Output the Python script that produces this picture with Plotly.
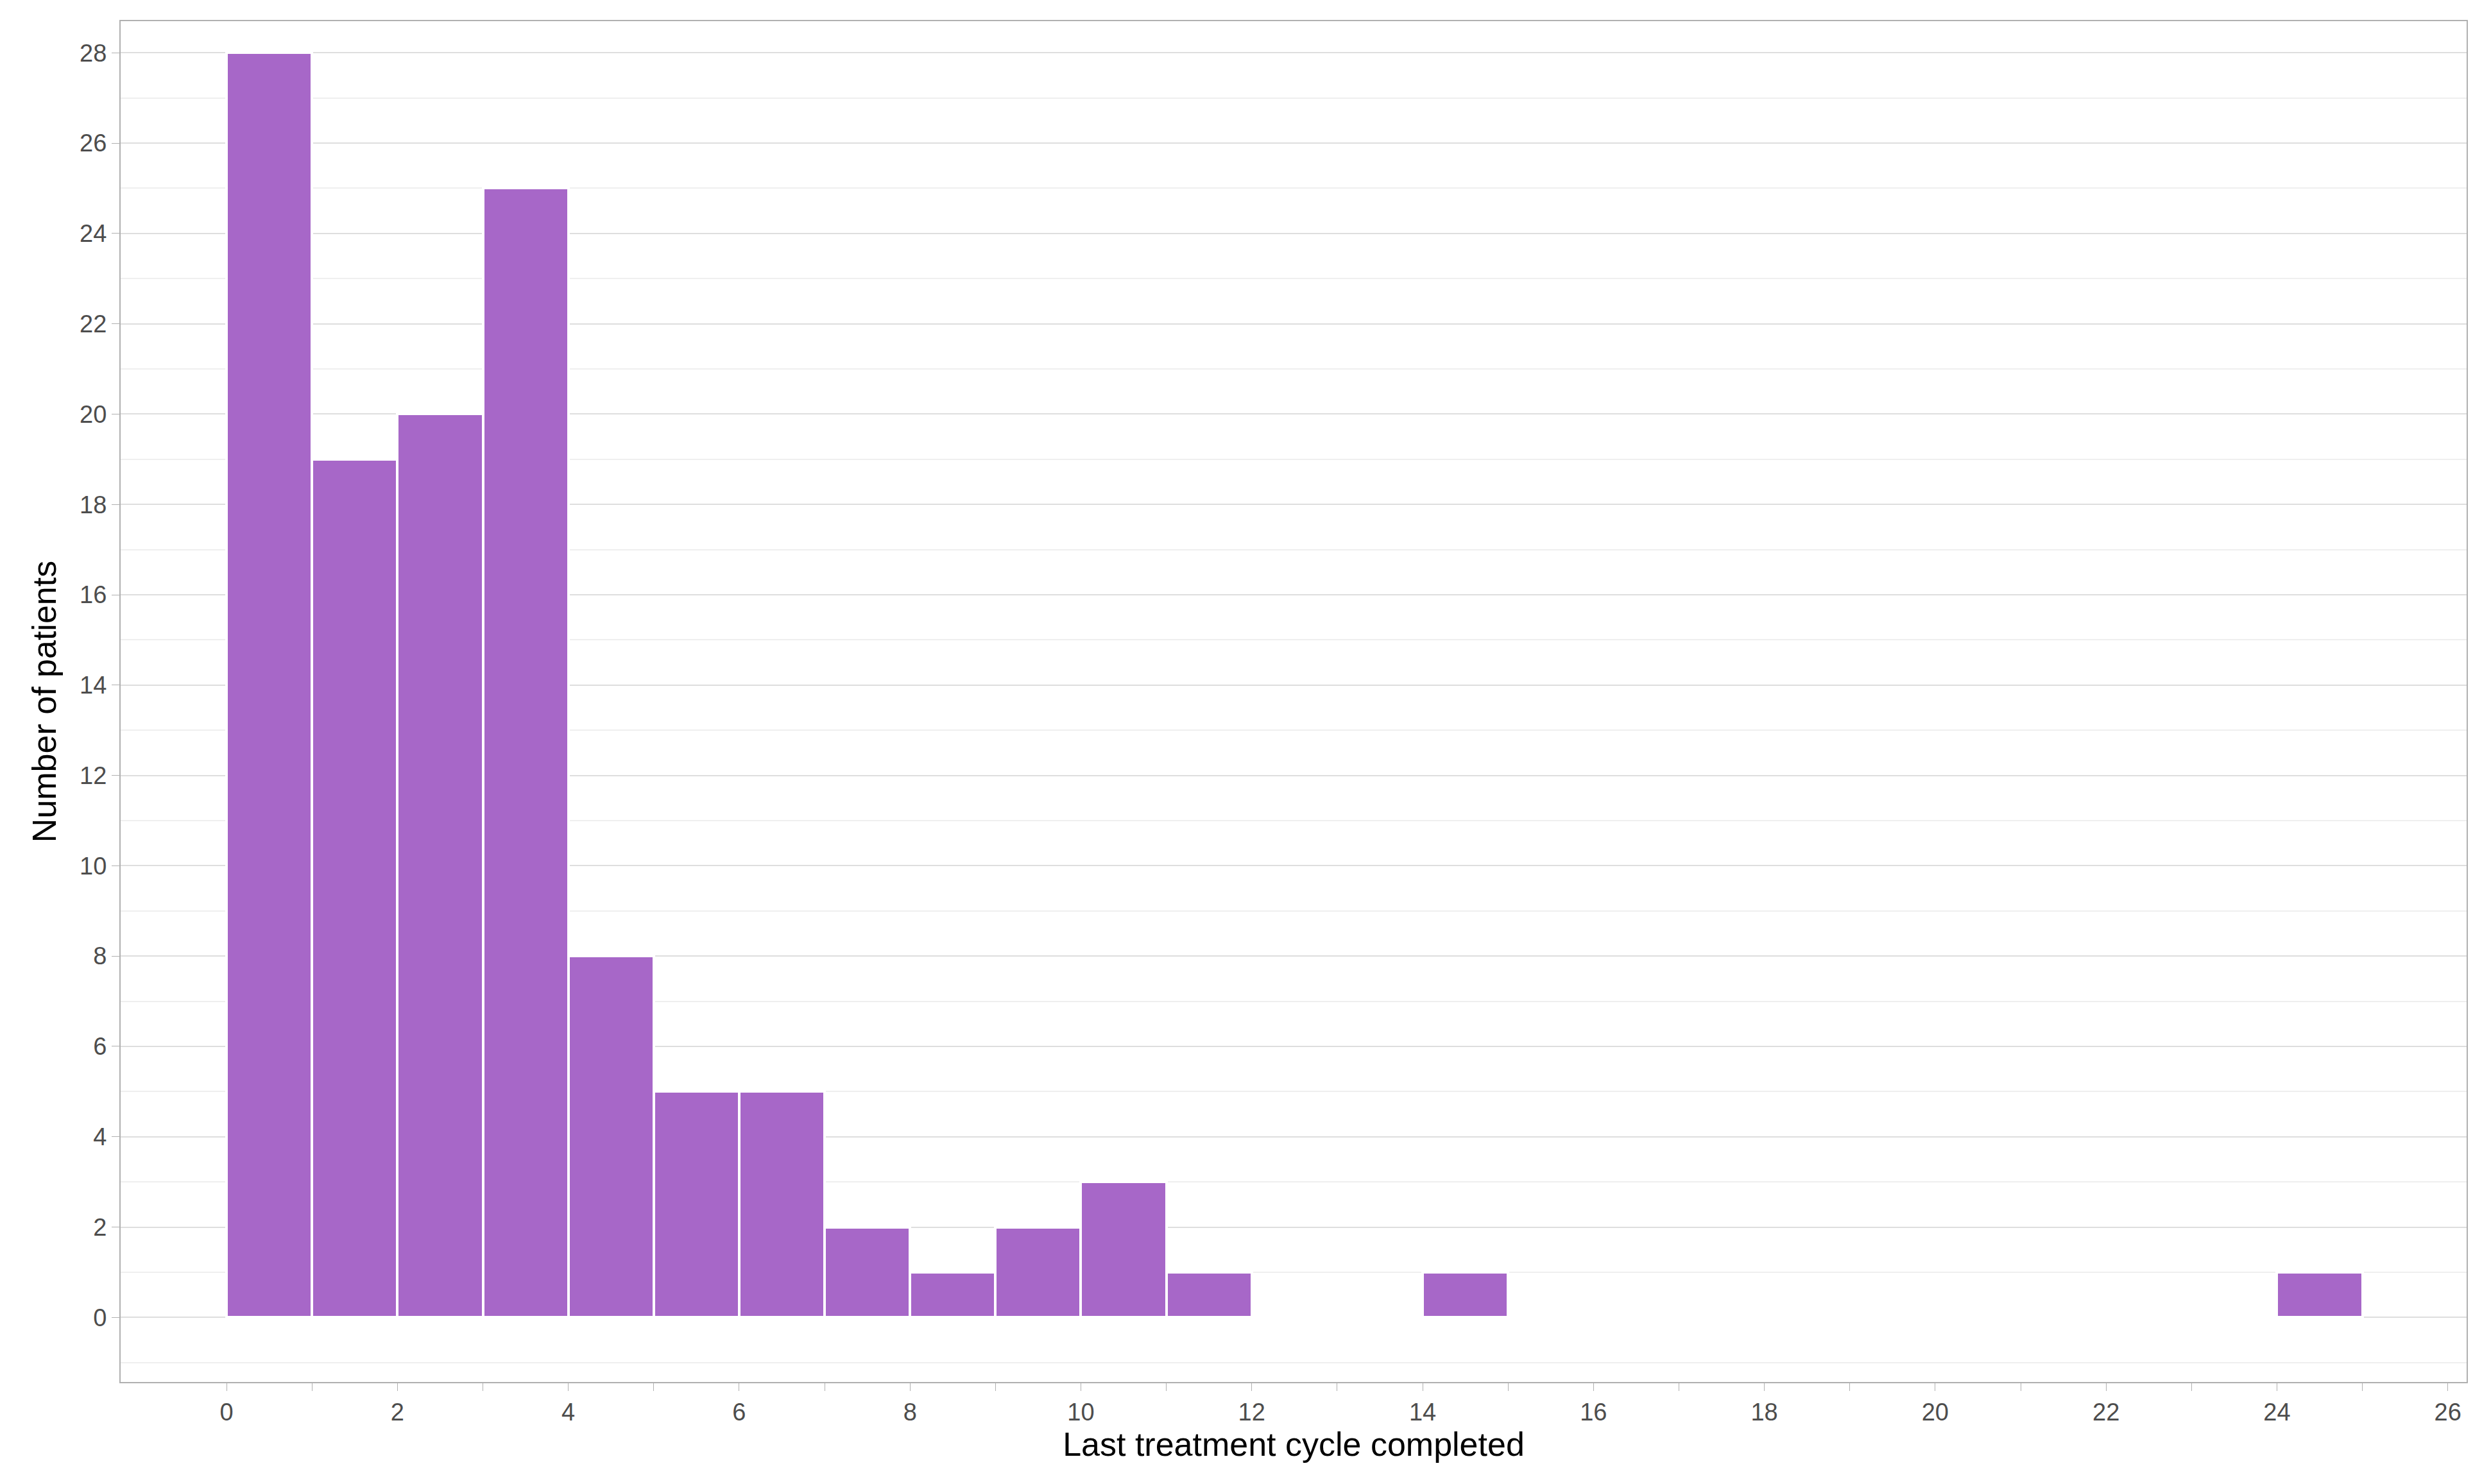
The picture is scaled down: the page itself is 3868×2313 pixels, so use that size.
import plotly.graph_objects as go

bin_left = list(range(0, 25))
counts = [28, 19, 20, 25, 8, 5, 5, 2, 1, 2, 3, 1, 0, 0, 1, 0, 0, 0, 0, 0, 0, 0, 0, 0, 1]
x_ticks = list(range(0, 27, 2))
y_ticks = list(range(0, 29, 2))

centers = [b + 0.5 for b in bin_left]

fig = go.Figure(go.Bar(
    x=centers, y=counts, width=1,
    marker=dict(color="#A767C8", line=dict(color="white", width=4)),
))
fig.update_layout(
    width=3868, height=2313,
    paper_bgcolor="white", plot_bgcolor="white",
    margin=dict(l=180, r=32, t=25, b=167),
    font=dict(family="Liberation Sans, Arial", size=38, color="#4d4d4d"),
    showlegend=False, bargap=0,
)
fig.update_xaxes(
    range=[-1.24, 26.22], tickvals=x_ticks, showgrid=False, zeroline=False,
    ticks="outside", ticklen=12, tickcolor="#b0b0b0",
    minor=dict(tickvals=list(range(1, 27, 2)), ticks="outside", ticklen=12, tickcolor="#b0b0b0"),
    showline=True, linecolor="#b0b0b0", linewidth=2, mirror=True,
    title=dict(text="Last treatment cycle completed", font=dict(size=52, color="black"), standoff=10),
)
fig.update_yaxes(
    range=[-1.43, 28.7], tickvals=y_ticks, showgrid=True, gridcolor="#dedede", gridwidth=2,
    zeroline=False, ticks="outside", ticklen=12, tickcolor="#b0b0b0",
    minor=dict(tickvals=list(range(-1, 29, 2)), showgrid=True, gridcolor="#efefef", gridwidth=2),
    showline=True, linecolor="#b0b0b0", linewidth=2, mirror=True,
    title=dict(text="Number of patients", font=dict(size=52, color="black"), standoff=20),
)
fig.write_html("out.html")
